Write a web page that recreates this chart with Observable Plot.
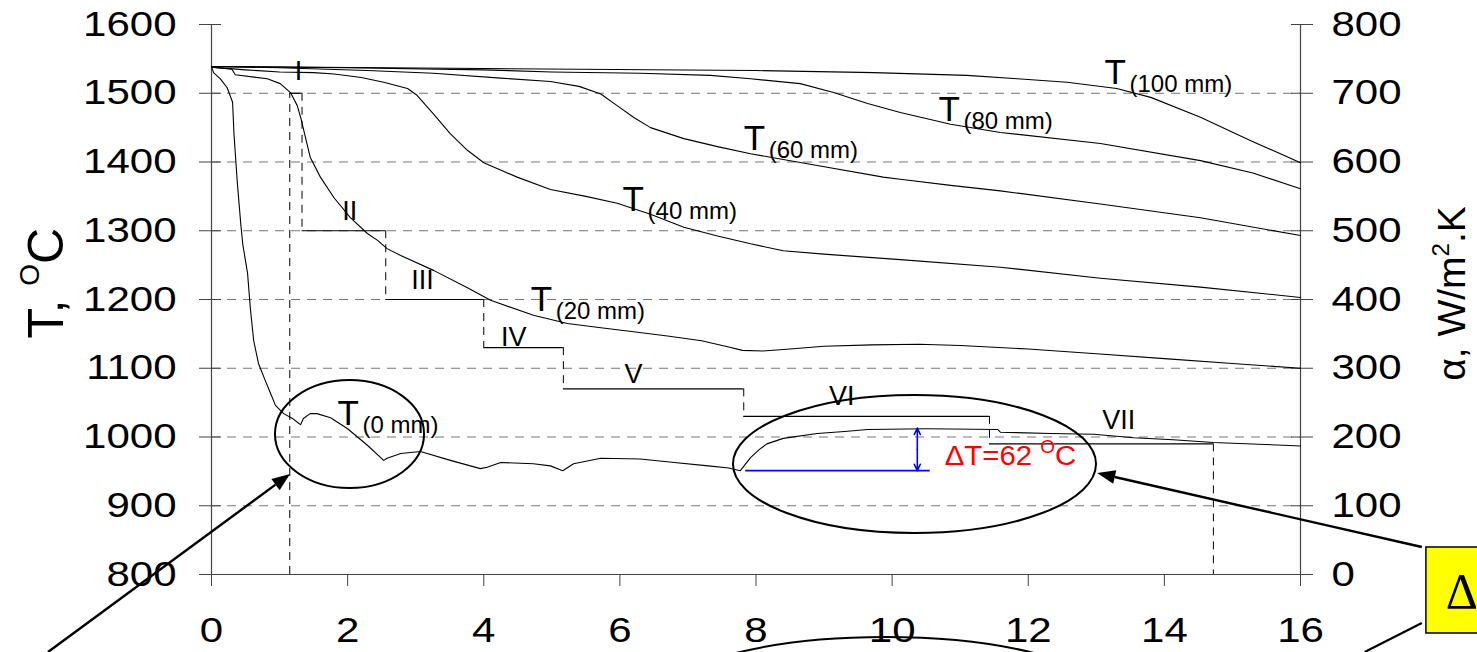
<!DOCTYPE html>
<html>
<head>
<meta charset="utf-8">
<script src="https://cdn.jsdelivr.net/npm/d3@7"></script>
<script src="https://cdn.jsdelivr.net/npm/@observablehq/plot@0.6"></script>
<style>
  html, body { margin: 0; padding: 0; background: #fff; }
  #chart svg { display: block; }
</style>
</head>
<body>
<div id="chart"></div>
<script>
// Time axis (min) and temperature (°C) along each depth below the strand surface
const time0   = [0, 0.03, 0.13, 0.23, 0.31, 0.33, 0.38, 0.43, 0.46, 0.53, 0.57, 0.62, 0.69, 0.79, 0.87, 0.94, 1.06, 1.19, 1.28, 1.31, 1.35, 1.45, 1.55, 1.75, 2.0, 2.29, 2.53, 2.58, 2.78, 3.07, 3.51, 3.95, 4.05, 4.25, 4.73, 4.98, 5.16, 5.32, 5.72, 6.3, 6.8, 7.3, 7.6, 7.77, 7.92, 8.05, 8.16, 8.4, 8.9, 9.3, 9.64, 10.5, 11.55, 11.59, 12.33, 12.96, 13.55, 14.13, 14.72, 15.75, 16];
const temp0   = [1539, 1530, 1521, 1508, 1487, 1441, 1369, 1310, 1280, 1238, 1188, 1140, 1107, 1082, 1063, 1046, 1034, 1027, 1020, 1018, 1027, 1034, 1034, 1028, 1012, 988, 966, 969, 976, 979, 966, 954, 956, 963, 961, 958, 951, 961, 969, 968, 963, 958, 955, 951, 970, 982, 990, 998, 1005, 1008, 1011, 1012, 1011, 1007, 1005, 1004, 999, 996, 992, 988, 987];

const time20  = [0, 0.3, 0.35, 0.82, 1.01, 1.16, 1.26, 1.31, 1.45, 1.6, 1.8, 2.04, 2.29, 2.44, 2.58, 2.78, 3.27, 3.76, 4.1, 4.73, 5.23, 5.72, 6.2, 6.7, 7.2, 7.6, 7.8, 8.1, 8.5, 9.0, 9.7, 10.4, 11.0, 12.0, 13.0, 14.0, 15.0, 16];
const temp20  = [1538, 1535, 1527, 1521, 1514, 1501, 1482, 1465, 1407, 1378, 1348, 1319, 1296, 1286, 1274, 1264, 1242, 1217, 1199, 1177, 1165, 1159, 1153, 1147, 1140, 1131, 1126, 1125, 1128, 1132, 1134, 1135, 1133, 1128, 1121, 1114, 1107, 1100];

const time40  = [0, 0.5, 1.0, 1.5, 1.8, 2.2, 2.53, 2.88, 3.02, 3.26, 3.51, 3.76, 4.0, 4.49, 4.98, 5.5, 5.96, 6.45, 6.94, 7.45, 7.92, 8.4, 9.0, 10.12, 11.59, 13.06, 14.53, 16];
const temp40  = [1538, 1534, 1531, 1530, 1528, 1523, 1516, 1507, 1497, 1470, 1441, 1417, 1399, 1378, 1360, 1350, 1340, 1324, 1305, 1292, 1281, 1271, 1266, 1258, 1247, 1231, 1218, 1203];

const time60  = [0, 1.0, 2.29, 3.26, 4.25, 4.98, 5.4, 5.72, 5.96, 6.2, 6.45, 6.94, 7.45, 7.92, 8.9, 9.87, 10.12, 10.86, 11.59, 13.06, 14.53, 16];
const temp60  = [1539, 1537, 1533, 1529, 1522, 1517, 1510, 1499, 1482, 1465, 1450, 1434, 1422, 1412, 1395, 1378, 1375, 1366, 1358, 1339, 1319, 1293];

const time80  = [0, 2, 4, 5, 6.3, 7.33, 7.92, 8.65, 9.14, 9.64, 10.12, 10.86, 11.59, 13.06, 14.53, 15.3, 16];
const temp80  = [1539, 1537, 1534, 1531, 1529, 1526, 1521, 1514, 1501, 1485, 1472, 1455, 1443, 1427, 1402, 1384, 1361];

const time100 = [0, 4, 8, 9.73, 11.1, 11.84, 12.57, 13.3, 13.8, 14.53, 15.27, 16];
const temp100 = [1539, 1536, 1533, 1530, 1526, 1521, 1516, 1507, 1494, 1465, 1431, 1399];

const depths = ["(0 mm)", "(20 mm)", "(40 mm)", "(60 mm)", "(80 mm)", "(100 mm)"];

// Heat transfer coefficient α (W/m².K) by cooling stage
const stageNames = ["I", "II", "III", "IV", "V", "VI", "VII"];
const stageStart = [1.15, 1.33, 2.56, 4.0, 5.17, 7.82, 11.43];
const stageEnd   = [1.33, 2.56, 4.0, 5.17, 7.82, 11.43, 14.72];
const stageAlpha = [700, 500, 400, 330, 270, 230, 190];

// Temperature rise of the surface after the secondary cooling zone
const deltaBase = 951;
const deltaT = 62;

// Axis ticks
const timeTicks  = [0, 2, 4, 6, 8, 10, 12, 14, 16];
const tempTicks  = [800, 900, 1000, 1100, 1200, 1300, 1400, 1500, 1600];
const gridTemps  = [900, 1000, 1100, 1200, 1300, 1400, 1500];
const alphaZero  = 800; // α = 0 sits level with T = 800 °C

// Label placement (time, temperature)
const depthLabelX = [1.85, 4.69, 6.04, 7.82, 10.68, 13.12];
const depthLabelT = [1017, 1184, 1329, 1418, 1460, 1514];
const stageLabelX = [1.28, 2.03, 3.1, 4.44, 6.2, 9.26, 13.33];
const stageLabelT = [1520, 1316, 1216, 1132, 1078, 1047, 1011];

// Build the tables used by the marks
const series = [[time0, temp0], [time20, temp20], [time40, temp40], [time60, temp60], [time80, temp80], [time100, temp100]];
const curveRows = series.flatMap(([ts, vs], k) => ts.map((t, i) => ({depth: depths[k], time: t, temp: vs[i]})));
const stages = stageNames.map((name, i) => ({name, start: stageStart[i], end: stageEnd[i], alpha: stageAlpha[i]}));
const jumps = stages.map((s, i) => ({time: s.start, from: i ? stages[i - 1].alpha : 0, to: s.alpha}))
  .concat([{time: stages[stages.length - 1].end, from: stages[stages.length - 1].alpha, to: 0}]);
const depthLabels = depths.map((d, i) => ({sub: d, x: depthLabelX[i], t: depthLabelT[i]}));
const stageLabels = stageNames.map((n, i) => ({name: n, x: stageLabelX[i], t: stageLabelT[i]}));

const W = 1477, H = 652, mL = 211, mR = 177, mT = 24, mB = 78;
const frameW = W - mL - mR;
const axisColor = "#444";
const plain = d => String(d);

const plot = Plot.plot({
  width: W, height: H,
  marginTop: mT, marginRight: mR, marginBottom: mB, marginLeft: mL,
  style: {background: "#fff", color: "#000", fontFamily: "'Liberation Sans', Arial, sans-serif", overflow: "visible"},
  x: {domain: [0, 16]},
  y: {domain: [800, 1600]},
  marks: [
    Plot.ruleY(gridTemps, {stroke: "#777", strokeDasharray: "9,7", strokeWidth: 1}),
    Plot.axisX({ticks: timeTicks, tickFormat: plain, tickSize: 12, tickPadding: 31, fontSize: 35, label: null, stroke: axisColor}),
    Plot.axisY({anchor: "left", ticks: tempTicks, tickFormat: plain, tickSize: 12, tickPadding: 23, fontSize: 35, label: null, stroke: axisColor}),
    Plot.axisY({anchor: "right", ticks: tempTicks, tickFormat: d => String(d - alphaZero), tickSize: 12, tickPadding: 19, fontSize: 35, label: null, stroke: axisColor}),
    // short inner ticks crossing both vertical axes
    Plot.axisY({anchor: "right", ticks: tempTicks, tickFormat: () => "", tickSize: 9, label: null, dx: -frameW, stroke: axisColor}),
    Plot.axisY({anchor: "left", ticks: tempTicks, tickFormat: () => "", tickSize: 9, label: null, dx: frameW, stroke: axisColor}),
    Plot.ruleX([0, 16], {stroke: axisColor, strokeWidth: 1.2}),
    Plot.ruleY([800], {stroke: axisColor, strokeWidth: 1.2}),
    // α stages: solid plateaus, dashed transitions
    Plot.ruleX(jumps, {x: "time", y1: d => d.from + alphaZero, y2: d => d.to + alphaZero, stroke: "#000", strokeDasharray: "8,6", strokeWidth: 1}),
    Plot.ruleY(stages, {y: d => d.alpha + alphaZero, x1: "start", x2: "end", stroke: "#000", strokeWidth: 1.2}),
    // temperature curves
    Plot.line(curveRows, {x: "time", y: "temp", z: "depth", stroke: "#000", strokeWidth: 1.1}),
    // ΔT marker
    Plot.ruleY([deltaBase], {x1: 7.85, x2: 10.56, stroke: "#0000ff", strokeWidth: 1.8}),
    Plot.arrow([deltaT], {x1: 10.37, x2: 10.37, y1: d => deltaBase + d / 2, y2: deltaBase, stroke: "#0000ff", strokeWidth: 1.6, headLength: 7, headAngle: 50}),
    Plot.arrow([deltaT], {x1: 10.37, x2: 10.37, y1: d => deltaBase + d / 2, y2: d => deltaBase + d, stroke: "#0000ff", strokeWidth: 1.6, headLength: 7, headAngle: 50}),
    // labels
    Plot.text(stageLabels, {x: "x", y: "t", text: "name", fontSize: 27, lineAnchor: "bottom", textAnchor: "middle", ariaLabel: "stage label"}),
    Plot.text(depthLabels, {x: "x", y: "t", text: () => "T", fontSize: 35, lineAnchor: "bottom", textAnchor: "start", ariaLabel: "depth label"}),
    Plot.text(depthLabels, {x: "x", y: "t", text: "sub", fontSize: 24, lineAnchor: "bottom", textAnchor: "start", dx: 25, dy: 8, ariaLabel: "depth sub label"})
  ]
});

document.getElementById("chart").appendChild(plot);

// Horizontal stretch of the text
const svg = d3.select(plot);
function stretch(sel, k) {
  sel.each(function () {
    const tr = this.getAttribute("transform") || "";
    this.setAttribute("transform", tr + ` scale(${k},1)`);
  });
}
stretch(svg.selectAll('g[aria-label="x-axis tick label"] text, g[aria-label="y-axis tick label"] text'), 1.2);
stretch(svg.selectAll('g[aria-label="depth label"] text, g[aria-label="depth sub label"] text'), 1.12);
stretch(svg.selectAll('g[aria-label="stage label"] text'), 1.08);

// Scales from the plot for the annotations
const sx = plot.scale("x"), sy = plot.scale("y");
const X = d3.scaleLinear(sx.domain, sx.range);
const Y = d3.scaleLinear(sy.domain, sy.range);
const font = "'Liberation Sans', Arial, sans-serif";

// Axis titles
const left = svg.append("text")
  .attr("transform", `translate(${X(-2.18)},${Y(1223)}) rotate(-90)`)
  .attr("text-anchor", "middle").attr("font-family", font).attr("font-size", 50).attr("fill", "#000");
left.append("tspan").text("T, ");
left.append("tspan").attr("dy", -24).attr("font-size", 28).text("O");
left.append("tspan").attr("dy", 24).text("C");

const right = svg.append("text")
  .attr("transform", `translate(${X(18.42)},${Y(1208)}) rotate(-90)`)
  .attr("text-anchor", "middle").attr("font-family", font).attr("font-size", 39).attr("fill", "#000");
right.append("tspan").text("α, W/m");
right.append("tspan").attr("dy", -16).attr("font-size", 24).text("2");
right.append("tspan").attr("dy", 16).text(".K");

// ΔT value
const dt = svg.append("text")
  .attr("x", X(10.78)).attr("y", Y(958.5)).attr("text-anchor", "start")
  .attr("font-family", font).attr("font-size", 28).attr("fill", "#ff0000")
  .attr("transform", `translate(${X(10.78)},0) scale(1.05,1) translate(${-X(10.78)},0)`);
dt.append("tspan").text(`ΔT=${deltaT} `);
dt.append("tspan").attr("dy", -12).attr("font-size", 18).text("O");
dt.append("tspan").attr("dy", 12).text("C");

// Callout ellipses, arrows and box
const ann = svg.append("g");
const ellipses = [
  {x: 2.035, t: 1003.6, rx: 1.095, rt: 78.5},
  {x: 10.336, t: 960, rx: 2.667, rt: 100.4},
  {x: 9.903, t: 606.5, rx: 3.44, rt: 101.8}
];
ellipses.forEach(e => ann.append("ellipse")
  .attr("cx", X(e.x)).attr("cy", Y(e.t))
  .attr("rx", X(e.x + e.rx) - X(e.x)).attr("ry", Y(e.t - e.rt) - Y(e.t))
  .attr("fill", "none").attr("stroke", "#000").attr("stroke-width", 2));

function arrow(a, b) {
  const x1 = X(a[0]), y1 = Y(a[1]), x2 = X(b[0]), y2 = Y(b[1]);
  const ang = Math.atan2(y2 - y1, x2 - x1), L = 18, w = 7;
  const bx = x2 - L * Math.cos(ang), by = y2 - L * Math.sin(ang);
  ann.append("line").attr("x1", x1).attr("y1", y1).attr("x2", bx).attr("y2", by)
    .attr("stroke", "#000").attr("stroke-width", 2.4);
  ann.append("path")
    .attr("d", `M${x2},${y2}L${bx - w * Math.sin(ang)},${by + w * Math.cos(ang)}L${bx + w * Math.sin(ang)},${by - w * Math.cos(ang)}Z`)
    .attr("fill", "#000");
}
arrow([-2.395, 686.5], [1.161, 945.5]);
arrow([17.79, 839.3], [13.02, 946.9]);

ann.append("line").attr("x1", X(17.79)).attr("y1", Y(728.7)).attr("x2", X(16.95)).attr("y2", Y(686.5))
  .attr("stroke", "#000").attr("stroke-width", 2.2);
ann.append("rect")
  .attr("x", X(17.85)).attr("y", Y(839.3))
  .attr("width", X(19) - X(17.85)).attr("height", Y(714.2) - Y(839.3))
  .attr("fill", "#ffff00").attr("stroke", "#000").attr("stroke-width", 1.5);
ann.append("text").attr("x", X(18.14)).attr("y", Y(750.5)).attr("text-anchor", "start")
  .attr("font-family", "'Liberation Serif', serif").attr("font-size", 50).attr("fill", "#000").text("Δ");
</script>
</body>
</html>
